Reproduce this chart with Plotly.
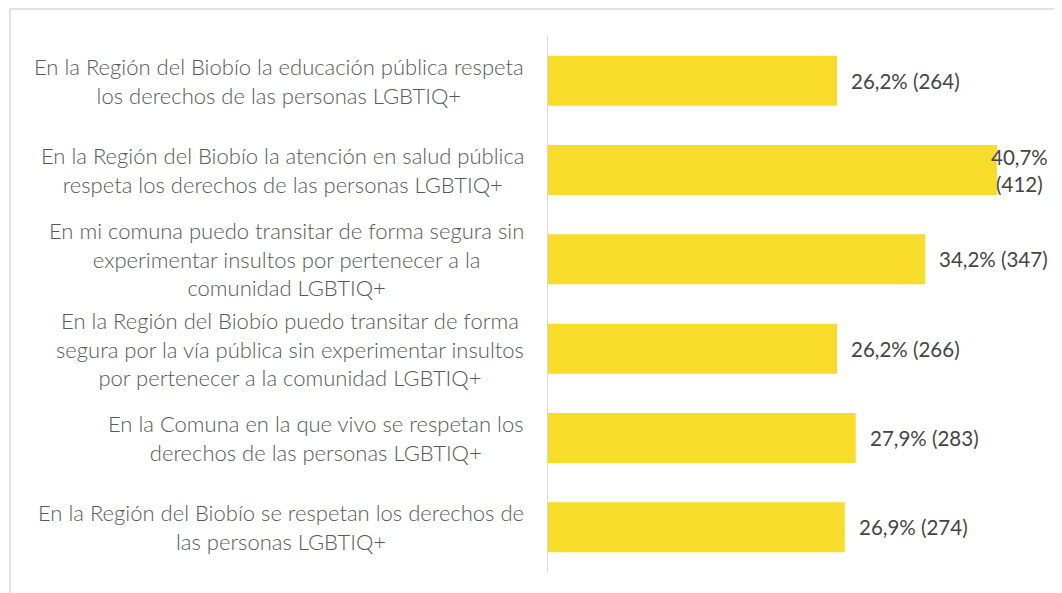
import plotly.graph_objects as go

categories = [
    "En la Región del Biobío la educación pública respeta<br>los derechos de las personas LGBTIQ+",
    "En la Región del Biobío la atención en salud pública<br>respeta los derechos de las personas LGBTIQ+",
    "En mi comuna puedo transitar de forma segura sin<br>experimentar insultos por pertenecer a la<br>comunidad LGBTIQ+",
    "En la Región del Biobío puedo transitar de forma<br>segura por la vía pública sin experimentar insultos<br>por pertenecer a la comunidad LGBTIQ+",
    "En la Comuna en la que vivo se respetan los<br>derechos de las personas LGBTIQ+",
    "En la Región del Biobío se respetan los derechos de<br>las personas LGBTIQ+",
]
percentages = [26.2, 40.7, 34.2, 26.2, 27.9, 26.9]
counts = [264, 412, 347, 266, 283, 274]
value_labels = [
    "26,2% (264)",
    "40,7%<br>(412)",
    "34,2% (347)",
    "26,2% (266)",
    "27,9% (283)",
    "26,9% (274)",
]

BAR_COLOR = "#F7DC2A"
FONT = "Lato"

fig = go.Figure()
fig.add_trace(go.Bar(
    x=percentages,
    y=categories,
    orientation="h",
    width=0.56,
    marker=dict(color=BAR_COLOR, line=dict(width=0)),
    hoverinfo="skip",
))

annotations = []
for cat in categories:
    annotations.append(dict(
        x=0, y=cat, xref="x", yref="y", text=cat, showarrow=False,
        xanchor="right", yanchor="middle", align="center", xshift=-22,
        font=dict(family=FONT, size=22, color="#595959", weight=300),
    ))
for cat, p, lab in zip(categories, percentages, value_labels):
    wrapped = "<br>" in lab
    annotations.append(dict(
        x=p, y=cat, xref="x", yref="y", text=lab, showarrow=False,
        xanchor="left", yanchor="middle", align="center",
        xshift=-8 if wrapped else 12,
        font=dict(family=FONT, size=20.5, color="#454545"),
    ))

fig.update_layout(
    width=1054, height=585,
    margin=dict(l=540, r=0, t=28, b=21),
    paper_bgcolor="white", plot_bgcolor="white",
    showlegend=False,
    bargap=0.44,
    xaxis=dict(range=[0, 46.6], showgrid=False, zeroline=False, showline=False,
               showticklabels=False, fixedrange=True),
    yaxis=dict(autorange="reversed", showgrid=False, zeroline=False,
               showline=True, linecolor="#D9D9D9", linewidth=1,
               showticklabels=False, ticks="", fixedrange=True),
    annotations=annotations,
    shapes=[dict(type="rect", xref="paper", yref="paper",
                 x0=(2 - 540) / 514, x1=1.2, y0=-0.2, y1=(564 - 1) / 536,
                 line=dict(color="#D9D9D9", width=1.5), fillcolor="rgba(0,0,0,0)",
                 layer="below")],
)

fig.write_html("out.html", config={"displayModeBar": False})
